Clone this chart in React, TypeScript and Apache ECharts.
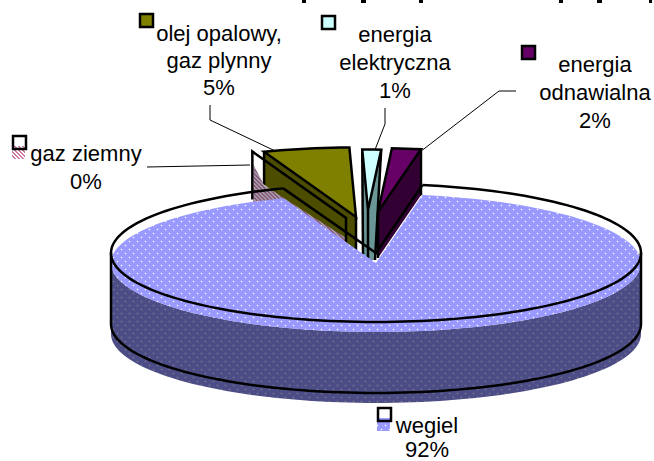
import React, { useEffect, useRef } from "react";
import * as echarts from "echarts";

// ---- data (pie order, clockwise) ----
const categories = ["wegiel", "gaz ziemny", "olej opalowy,\ngaz plynny", "energia\nelektryczna", "energia\nodnawialna"];
const shares = [91.5, 0.1, 5.2, 1.3, 1.9];

// ---- layout ----
const FONT = "'Liberation Sans', Arial, sans-serif";
const CX = 376, CY = 253, RX = 265, RY = 69, DEPTH = 71, FILL_SHIFT = 10;
const START_DEG = 10.1;
const RATIO = RY / RX;
const explode = [[0, 0], [-30, -35], [-20, -36], [-8, -43], [2, -41]];
const radii = [RX, 272, 267, 232, 245];
const wallHeight = [DEPTH, 48, 33, 50, 46];
const drawOrder = [1, 2, 3, 4, 0];
const topColors = ["#9999ff", "#993366", "#808000", "#ccffff", "#660066"];
const wallColors = ["#4d4d80", "#996680", "#4d4d00", "#6a9696", "#330033"];
const labelCenters = [[427, 425], [86, 153], [219, 33], [395, 34], [595, 64]];
const lineGap = [24, 28, 27, 28, 28];
const leaders = [
  null,
  [[147, 167], [250, 165]],
  [[210, 105], [210, 120], [290, 158]],
  [[385, 108], [385, 124], [371, 160]],
  [[516, 91], [499, 91], [416, 155]],
];
const keys = [[378, 408], [13, 136], [140, 14], [322, 16], [522, 46]];
const clippedTitleMarks = [[302, 4], [361, 5], [419, 4], [559, 4], [597, 5], [649, 3]];

// angle helpers: degrees clockwise from the top of the pie
const toXY = (deg: number, r: number, ox = CX, oy = CY): number[] => {
  const a = (deg * Math.PI) / 180;
  return [ox + r * Math.sin(a), oy - r * Math.cos(a) * RATIO];
};
const sliceSpans = () => {
  let cur = START_DEG;
  return shares.map((v) => {
    const s = cur;
    cur += (v / 100) * 360;
    return [s, cur];
  });
};
const arc = (from: number, to: number, r: number, ox: number, oy: number) => {
  const pts: number[][] = [];
  const n = Math.max(2, Math.ceil(Math.abs(to - from) / 2));
  for (let i = 0; i <= n; i++) pts.push(toXY(from + ((to - from) * i) / n, r, ox, oy));
  return pts;
};

const makePattern = (w: number, h: number, paint: (c: CanvasRenderingContext2D) => void) => {
  const cv = document.createElement("canvas");
  cv.width = w;
  cv.height = h;
  paint(cv.getContext("2d")!);
  return { type: "pattern", image: cv, repeat: "repeat", imageWidth: w, imageHeight: h } as any;
};
const dots = (bg: string, halo: string, dot: string) =>
  makePattern(8, 8, (c) => {
    c.fillStyle = bg;
    c.fillRect(0, 0, 8, 8);
    for (const [x, y] of [[1, 1], [5, 5]]) {
      c.fillStyle = halo;
      c.fillRect(x - 1, y, 3, 1);
      c.fillRect(x, y - 1, 1, 3);
      c.fillStyle = dot;
      c.fillRect(x, y, 1, 1);
    }
  });
const hatch = (bg: string, fg: string) =>
  makePattern(4, 4, (c) => {
    c.fillStyle = bg;
    c.fillRect(0, 0, 4, 4);
    c.fillStyle = fg;
    for (let i = 0; i < 4; i++) c.fillRect(i, i, 1, 1), c.fillRect((i + 1) % 4, i, 1, 1);
  });

export default function App() {
  const ref = useRef<HTMLDivElement>(null);
  useEffect(() => {
    document.body.style.margin = "0";
    const chart = echarts.init(ref.current!, null, { renderer: "svg" });
    const spans = sliceSpans();
    const coalTop = dots("#9999ff", "#aeaeff", "#ffffff");
    const coalSide = dots("#4c4c86", "#5a5a88", "#77778c");
    const gasWall = hatch("#a39aa3", "#8a5a80");
    const gasKey = hatch("#ffffff", "#d07aa5");
    const ink = { stroke: "#000", lineWidth: 2.5, fill: "none", lineJoin: "miter" };

    const line = (points: number[][], z: number) => ({ type: "polyline", z2: z, shape: { points }, style: { ...ink } });
    const poly = (points: number[][], fill: any, z: number, stroke = false) => ({
      type: "polygon",
      z2: z,
      shape: { points },
      style: stroke ? { fill, stroke: "#000", lineWidth: 2.5 } : { fill },
    });

    const renderGas = () => {
      const [, e] = spans[1];
      const [dx, dy] = explode[1];
      const tx = CX + dx, ty = CY + dy;
      const b = toXY(e, radii[1], tx, ty);
      const [cs, ce] = spans[0];
      return [
        poly(
          [[b[0] + 1, b[1] + 13], [b[0] + 12, b[1] + 34], [tx, ty + 20], [tx, ty + 70], [b[0] + 1, b[1] + 70]],
          gasWall,
          2
        ),
        line(arc(cs, 90, RX, CX, CY), 3),
        line(arc(270, ce, RX, CX, CY), 3),
        line([[b[0], b[1] + wallHeight[1]], b, [tx, ty], [tx, ty + 24]], 4),
      ];
    };

    const renderSlice = (i: number) => {
      const [s, e] = spans[i];
      const [dx, dy] = explode[i];
      const tx = CX + dx, ty = CY + dy, r = radii[i], h = wallHeight[i];
      const a = toXY(s, r, tx, ty);
      const b = toXY(e, r, tx, ty);
      const tip = [tx, ty];
      const bottom = [tx, ty + h];
      const base = i === 2 ? 1 : i === 3 ? 6 : 8;
      const kids: any[] = [];
      if (i === 3) {
        // the electric slice's walls taper down to the foot of its tip
        const footL = [tx - 5, ty + h - 6];
        const footR = [tx + 7, ty + h];
        kids.push(poly([a, tip, bottom, footL], wallColors[i], base));
        kids.push(poly([b, tip, bottom, footR], wallColors[i], base));
        kids.push(line([a, footL], base));
        kids.push(line([b, footR], base));
      } else {
        kids.push(poly([tip, a, [a[0], a[1] + h], bottom], wallColors[i], base));
        kids.push(poly([tip, b, [b[0], b[1] + h], bottom], wallColors[i], base));
        if (i === 4) kids.push(line([b, [b[0], b[1] + h]], base));
        else kids.push(line([a, [a[0], a[1] + h]], base));
      }
      kids.push(line([tip, bottom], base));
      kids.push(poly([tip, ...arc(s, e, r, tx, ty)], topColors[i], base + (i === 2 ? 4 : 1), true));
      return kids;
    };

    const renderCoal = () => {
      const [s, e] = spans[0];
      const o = FILL_SHIFT;
      const wallPts = [...arc(90, 270, RX, CX, CY + o), ...arc(270, 90, RX, CX, CY + o + DEPTH)];
      const topPts = [[CX, CY + o], ...arc(s, e, RX, CX, CY + o)];
      const corner1 = toXY(s, RX);
      const corner2 = toXY(e, RX);
      return [
        poly(wallPts, coalSide, 10),
        poly(topPts, coalTop, 11),
        line([corner2, [CX, CY], corner1], 12),
        line(arc(90, 270, RX, CX, CY), 12),
        line([toXY(90, RX), [CX + RX, CY + DEPTH], ...arc(90, 270, RX, CX, CY + DEPTH), [CX - RX, CY]], 12),
      ];
    };

    const series: any = {
      type: "custom",
      coordinateSystem: "none",
      silent: true,
      data: drawOrder.map((i) => [shares[i]]),
      renderItem: (p: any) => {
        const i = drawOrder[p.dataIndex];
        return { type: "group", children: i === 0 ? renderCoal() : i === 1 ? renderGas() : renderSlice(i) };
      },
    };

    const graphic: any[] = [];
    categories.forEach((name, i) => {
      const lines = [...name.split("\n"), `${Math.round(shares[i])}%`];
      const [cx, cy] = labelCenters[i];
      lines.forEach((t, k) => {
        graphic.push({
          type: "text",
          x: cx,
          y: cy + k * lineGap[i],
          silent: true,
          style: { text: t, font: `22px ${FONT}`, fill: "#000", align: "center", verticalAlign: "middle" },
        });
      });
      const ld = leaders[i];
      if (ld) {
        graphic.push({ type: "polyline", silent: true, shape: { points: ld }, style: { stroke: "#000", lineWidth: 1, fill: "none" } });
      }
      const [kx, ky] = keys[i];
      const offset = i < 2 ? [-1, 10] : [0, 0];
      graphic.push({
        type: "rect",
        silent: true,
        shape: { x: kx + offset[0], y: ky + offset[1], width: 13, height: 13 },
        style: { fill: i === 0 ? coalTop : i === 1 ? gasKey : topColors[i] },
      });
      graphic.push({
        type: "rect",
        silent: true,
        shape: { x: kx, y: ky, width: 13, height: 13 },
        style: { fill: "none", stroke: "#000", lineWidth: 2.5 },
      });
    });
    clippedTitleMarks.forEach(([x, w]) =>
      graphic.push({ type: "rect", silent: true, shape: { x, y: 0, width: w, height: 3 }, style: { fill: "#000" } })
    );

    chart.setOption({ animation: false, series: [series], graphic });
    return () => chart.dispose();
  }, []);
  return <div ref={ref} style={{ width: 654, height: 461 }} />;
}
